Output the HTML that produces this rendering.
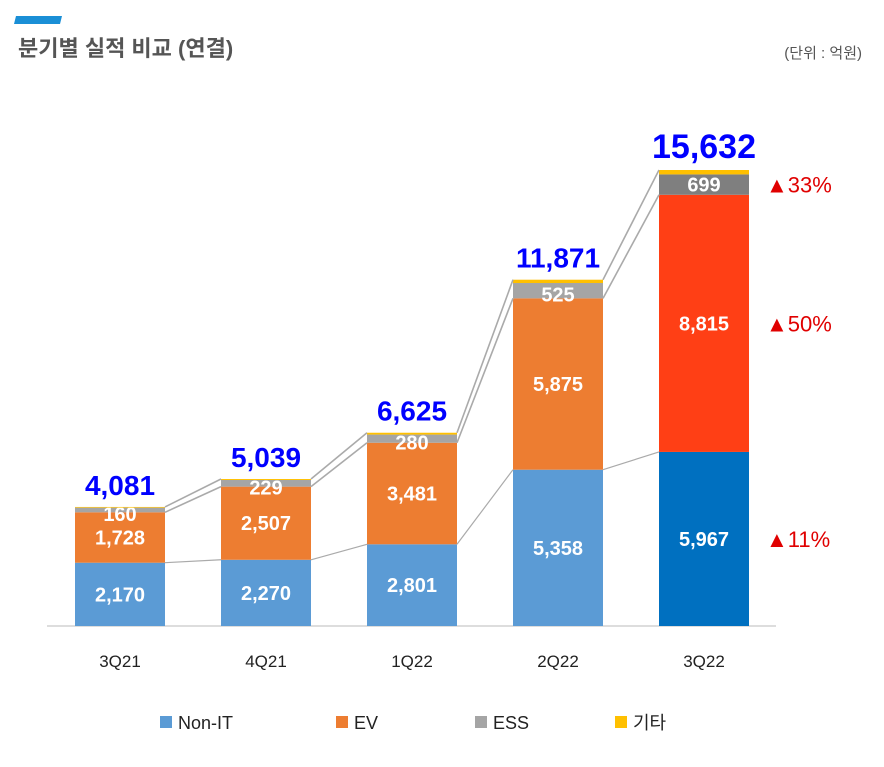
<!DOCTYPE html>
<html><head><meta charset="utf-8"><style>
body{margin:0;background:#fff;width:884px;height:762px;overflow:hidden;font-family:"Liberation Sans","Noto Sans CJK KR",sans-serif;}
svg text{font-family:"Liberation Sans","Noto Sans CJK KR",sans-serif;}
</style></head><body>
<svg id="c" width="884" height="762">
<polygon points="16,16 62,16 60,24 14,24" fill="#1a8fd6"/>
<text x="18" y="56" font-size="22" font-weight="bold" fill="#555">분기별 실적 비교 (연결)</text>
<text x="862" y="58" font-size="15" fill="#555" text-anchor="end">(단위 : 억원)</text>
<line x1="47" y1="626" x2="776" y2="626" stroke="#bbb" stroke-width="1"/>
<g id="bars"></g>
<g id="legend"></g>
</svg>
<script>
const categories=["3Q21","4Q21","1Q22","2Q22","3Q22"];
const nonIT=[2170,2270,2801,5358,5967];
const ev=[1728,2507,3481,5875,8815];
const ess=[160,229,280,525,699];
const other=[23,33,63,113,151];
const totals=[4081,5039,6625,11871,15632];
const growthLabels=["▲33%","▲50%","▲11%"];
const NS="http://www.w3.org/2000/svg";
const base=626,scale=456/15632,x0=120,step=146,bw=90;
const y=v=>base-v*scale;
const xc=i=>x0+i*step;
const svg=document.getElementById('bars');
function mk(t,a,p){const e=document.createElementNS(NS,t);for(const k in a)e.setAttribute(k,a[k]);(p||svg).appendChild(e);return e;}
const cols=[["#5B9BD5","#ED7D31","#A5A5A5","#FFC000"],["#0070C0","#FF3F15","#7F7F7F","#FFC000"]];
const names=["non-it","ev","ess","other"];
const tops=[];
categories.forEach((c,i)=>{
  const vals=[nonIT[i],ev[i],ess[i],other[i]];
  let cum=0;const t=[];
  vals.forEach((v,k)=>{
    const y1=y(cum+v),y0=y(cum);
    const r=mk('rect',{x:xc(i)-bw/2,y:y1,width:bw,height:y0-y1,fill:cols[i==4?1:0][k]});
    
    
    if(k<3){
      const off=k==2?(i==4?7:11):7;
      const tx=mk('text',{x:xc(i),y:(y1+y0)/2+off,'font-size':20,'font-weight':'bold',fill:'#fff','text-anchor':'middle'});
      tx.textContent=v.toLocaleString('en-US');
      
      
    }
    cum+=v;t.push(y(cum));
  });
  tops.push(t);
  const tl=mk('text',{x:xc(i),y:y(totals[i])-12,'font-size':i==4?34:28,'font-weight':'bold',fill:'#0000FF','text-anchor':'middle'});
  tl.textContent=totals[i].toLocaleString('en-US');
  
  
  const xl=mk('text',{x:xc(i),y:667,'font-size':17,fill:'#222','text-anchor':'middle'});
  xl.textContent=c;
  
  
});
for(let i=0;i<categories.length-1;i++){
  [0,1,3].forEach(k=>{
    const l=mk('line',{x1:xc(i)+bw/2,y1:tops[i][k],x2:xc(i+1)-bw/2,y2:tops[i+1][k],stroke:'#aaa','stroke-width':k==0?1.2:1.6});
    
    
  });
}
const gy=[y(nonIT[4]+ev[4]+ess[4]/2),y(nonIT[4]+ev[4]/2),y(nonIT[4]/2)];
growthLabels.forEach((g,j)=>{
  const t=mk('text',{x:766,y:gy[j]+8,'font-size':22,fill:'#E00000'});
  t.textContent=g;
  
  
});
const lg=document.getElementById('legend');
const lnames=["Non-IT","EV","ESS","기타"],lx=[160,336,475,615];
lnames.forEach((n,k)=>{
  const r=mk('rect',{x:lx[k],y:716,width:12,height:12,fill:cols[0][k]},lg);
  
  
  const t=mk('text',{x:lx[k]+18,y:729,'font-size':18,fill:'#222'},lg);
  t.textContent=n;
  
  
});
</script>
</body></html>
